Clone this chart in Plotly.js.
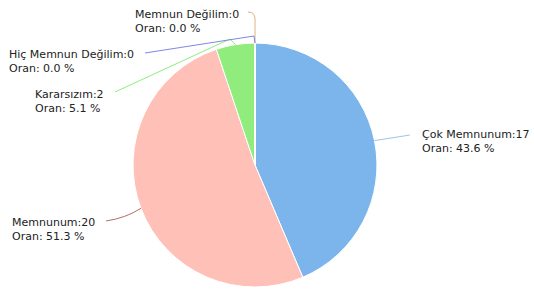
<!DOCTYPE html>
<html>
<head>
<meta charset="utf-8">
<script src="https://cdn.plot.ly/plotly-3.0.1.min.js"></script>
<style>html,body{margin:0;padding:0;background:#fff;}#chart{width:534px;height:289px;}</style>
</head>
<body>
<div id="chart"></div>
<script>
// ---- data ----
var categories = ["Çok Memnunum", "Memnunum", "Kararsızım", "Memnun Değilim", "Hiç Memnun Değilim"];
var counts = [17, 20, 2, 0, 0];
var rateLabel = "Oran";

// ---- styling / layout ----
var colors = ["#7cb5ec", "#ffc0b8", "#90ed7d", "#f7a35c", "#8085e9"];
var lineColors = ["#9cc6ee", "#b86a66", "#90ed7d", "#e0b27e", "#8085e9"];
var W = 534, H = 289;
var dom = {x: [0.249, 0.706], y: [0.0069, 0.851]};
// label placement (pixels): text left x, first-line y, connector end, optional knee
var labelPos = [
  {tx: 420, ty: 134, ex: 410, ey: 135},
  {tx: 10, ty: 222, ex: 106, ey: 221, qx: 126, qy: 218},
  {tx: 33, ty: 94, ex: 115, ey: 92, kx: 230, ky: 39},
  {tx: 133, ty: 14, ex: 248, ey: 12, qx: 255, qy: 12, kx: 255, ky: 19},
  {tx: 7, ty: 54, ex: 145, ey: 53, kx: 254, ky: 36}
];
var lineGap = 14;

var total = counts.reduce(function(a, b){ return a + b; }, 0);
var cx = W * (dom.x[0] + dom.x[1]) / 2;
var cy = H - H * (dom.y[0] + dom.y[1]) / 2;
var R = Math.min(W * (dom.x[1] - dom.x[0]), H * (dom.y[1] - dom.y[0])) / 2;

var annotations = [], shapes = [];
var cum = 0;
for (var i = 0; i < categories.length; i++) {
  var frac = counts[i] / total;
  var th = 2 * Math.PI * (cum + frac / 2);
  cum += frac;
  var px = cx + R * Math.sin(th), py = cy - R * Math.cos(th);
  var p = labelPos[i];
  var path = "M " + p.ex + " " + p.ey + " ";
  if (p.qx !== undefined && p.kx !== undefined) {
    path += "Q " + p.qx + " " + p.qy + " " + p.kx + " " + p.ky + " L " + px.toFixed(1) + " " + py.toFixed(1);
  } else if (p.qx !== undefined) {
    path += "Q " + p.qx + " " + p.qy + " " + px.toFixed(1) + " " + py.toFixed(1);
  } else if (p.kx !== undefined) {
    path += "L " + p.kx + " " + p.ky + " L " + px.toFixed(1) + " " + py.toFixed(1);
  } else {
    path += "L " + px.toFixed(1) + " " + py.toFixed(1);
  }
  shapes.push({type: "path", xref: "x", yref: "y", path: path,
               line: {color: lineColors[i], width: 1}});
  var pct = (counts[i] / total * 100).toFixed(1);
  var lines = [categories[i] + ":" + counts[i], rateLabel + ": " + pct + " %"];
  for (var j = 0; j < lines.length; j++) {
    annotations.push({x: p.tx, y: p.ty + j * lineGap, xref: "x", yref: "y",
      text: lines[j], showarrow: false, xanchor: "left", yanchor: "middle",
      font: {family: "DejaVu Sans", size: 11, color: "#222"}});
  }
}

var trace = {
  type: "pie", labels: categories, values: counts, sort: false,
  direction: "clockwise", rotation: 0, textinfo: "none", hoverinfo: "none",
  marker: {colors: colors, line: {color: "#ffffff", width: 1}},
  domain: dom, showlegend: false
};
var layout = {
  width: W, height: H, margin: {l: 0, r: 0, t: 0, b: 0},
  paper_bgcolor: "#fff", plot_bgcolor: "rgba(0,0,0,0)",
  xaxis: {range: [0, W], visible: false, fixedrange: true},
  yaxis: {range: [H, 0], visible: false, fixedrange: true},
  annotations: annotations, shapes: shapes, showlegend: false
};
Plotly.newPlot("chart", [trace], layout, {staticPlot: true, displayModeBar: false});
</script>
</body>
</html>
